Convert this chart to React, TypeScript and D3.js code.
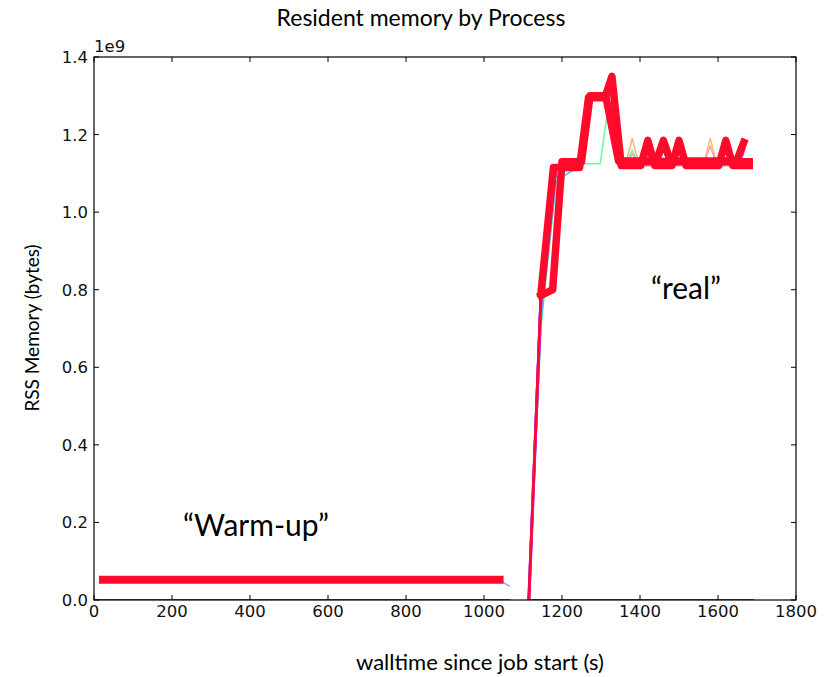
import { useEffect, useRef } from 'react'
import * as d3 from 'd3'

const WIDTH = 828
const HEIGHT = 677

const xTicks = [0, 200, 400, 600, 800, 1000, 1200, 1400, 1600, 1800]
const yTicks = [0, 0.2, 0.4, 0.6, 0.8, 1.0, 1.2, 1.4]

// all memory values in units of 1e9 bytes, times in seconds
const warmupRedTimes = [23, 1040]
const warmupRed = [0.052, 0.052]
const warmupBlueTimes = [23, 1040, 1065]
const warmupBlue = [0.05, 0.05, 0.036]
const warmupZeroTimes = [5, 1065]
const warmupZero = [0, 0]
const realZeroTimes = [1112, 1690]
const realZero = [0, 0]
const riseTimes = [1115, 1146]
const rise = [0, 0.79]

const realTimes = [1115, 1146, 1185, 1245, 1268, 1298, 1318, 1328, 1352, 1362, 1380, 1398, 1402, 1420, 1438, 1442, 1460, 1478, 1482, 1500, 1518, 1562, 1580, 1598, 1602, 1620, 1638, 1648, 1666]
const procOrange = [0, 0.74, 1.11, 1.12, 1.29, 1.29, 1.29, 1.3, 1.12, 1.12, 1.19, 1.12, 1.12, 1.12, 1.12, 1.12, 1.12, 1.12, 1.12, 1.12, 1.12, 1.12, 1.19, 1.12, 1.12, 1.12, 1.12, 1.12, 1.12]
const procGreen = [0, 0.7, 1.1, 1.125, 1.125, 1.125, 1.27, 1.22, 1.12, 1.12, 1.16, 1.12, 1.12, 1.12, 1.12, 1.12, 1.12, 1.12, 1.12, 1.16, 1.12, 1.12, 1.12, 1.12, 1.12, 1.12, 1.12, 1.12, 1.12]
const procYellow = [0, 0.76, 1.1, 1.12, 1.3, 1.3, 1.3, 1.31, 1.12, 1.12, 1.12, 1.12, 1.12, 1.12, 1.12, 1.12, 1.12, 1.12, 1.12, 1.12, 1.12, 1.12, 1.185, 1.12, 1.12, 1.12, 1.12, 1.12, 1.12]
const procPink = [0, 0.77, 1.11, 1.12, 1.3, 1.3, 1.3, 1.33, 1.12, 1.12, 1.15, 1.12, 1.12, 1.12, 1.12, 1.12, 1.12, 1.12, 1.12, 1.12, 1.12, 1.12, 1.17, 1.12, 1.12, 1.12, 1.12, 1.12, 1.12]
const procCyan = [0, 0.72, 1.08, 1.12, 1.3, 1.3, 1.3, 1.32, 1.12, 1.12, 1.12, 1.12, 1.12, 1.145, 1.12, 1.12, 1.14, 1.12, 1.12, 1.15, 1.12, 1.12, 1.12, 1.12, 1.12, 1.14, 1.12, 1.12, 1.15]
const procBlue = [0, 0.79, 1.12, 1.12, 1.3, 1.3, 1.3, 1.34, 1.12, 1.12, 1.12, 1.12, 1.12, 1.165, 1.12, 1.12, 1.16, 1.12, 1.12, 1.155, 1.12, 1.12, 1.12, 1.12, 1.12, 1.17, 1.12, 1.12, 1.17]
const procPurple = [0, 0.78, 1.12, 1.12, 1.3, 1.3, 1.3, 1.35, 1.12, 1.12, 1.12, 1.12, 1.12, 1.175, 1.12, 1.12, 1.175, 1.12, 1.12, 1.17, 1.12, 1.12, 1.12, 1.12, 1.12, 1.175, 1.12, 1.12, 1.18]
const procMagenta = [0, 0.77, 1.12, 1.12, 1.3, 1.3, 1.3, 1.35, 1.12, 1.12, 1.12, 1.12, 1.12, 1.155, 1.12, 1.12, 1.165, 1.12, 1.12, 1.16, 1.12, 1.12, 1.12, 1.12, 1.12, 1.16, 1.12, 1.12, 1.16]

const redATimes = [1146, 1178, 1245, 1268, 1310, 1328, 1352, 1402, 1420, 1438, 1482, 1500, 1518, 1602, 1620, 1638, 1680]
const redA = [0.79, 1.115, 1.115, 1.295, 1.295, 1.35, 1.12, 1.12, 1.185, 1.12, 1.12, 1.185, 1.12, 1.12, 1.185, 1.12, 1.12]
const redBTimes = [1146, 1176, 1200, 1250, 1272, 1312, 1345, 1442, 1460, 1478, 1648, 1666]
const redB = [0.785, 0.8, 1.13, 1.13, 1.3, 1.3, 1.132, 1.132, 1.185, 1.132, 1.132, 1.18]
const redCTimes = [1352, 1680]
const redC = [1.13, 1.13]

type Line = { times: number[]; values: number[]; color: string; width: number; opacity: number }

const RED = '#ff0a2a'

const lines: Line[] = [
  { times: warmupZeroTimes, values: warmupZero, color: RED, width: 2, opacity: 1 },
  { times: realZeroTimes, values: realZero, color: RED, width: 2, opacity: 1 },
  { times: warmupBlueTimes, values: warmupBlue, color: '#8899ff', width: 1.5, opacity: 0.9 },
  { times: warmupRedTimes, values: warmupRed, color: RED, width: 8, opacity: 1 },
  { times: realTimes, values: procOrange, color: '#ffa070', width: 1.5, opacity: 0.85 },
  { times: realTimes, values: procYellow, color: '#eedd66', width: 1.5, opacity: 0.85 },
  { times: realTimes, values: procGreen, color: '#55ff88', width: 1.5, opacity: 0.9 },
  { times: realTimes, values: procPink, color: '#ff88bb', width: 1.5, opacity: 0.85 },
  { times: realTimes, values: procCyan, color: '#33bbff', width: 2, opacity: 0.8 },
  { times: realTimes, values: procBlue, color: '#3344ff', width: 2.5, opacity: 0.85 },
  { times: realTimes, values: procPurple, color: '#9922ee', width: 3, opacity: 0.9 },
  { times: realTimes, values: procMagenta, color: '#ee11cc', width: 3, opacity: 0.9 },
  { times: riseTimes, values: rise, color: RED, width: 2.5, opacity: 1 },
  { times: redCTimes, values: redC, color: RED, width: 7.5, opacity: 1 },
  { times: redBTimes, values: redB, color: RED, width: 7.5, opacity: 1 },
  { times: redATimes, values: redA, color: RED, width: 7.5, opacity: 1 },
]

const App = () => {
  const svgRef = useRef<SVGSVGElement | null>(null)

  useEffect(() => {
    if (!svgRef.current) return
    const svg = d3.select(svgRef.current)
    svg.selectAll('*').remove()

    const left = 94
    const right = 796
    const top = 57
    const bottom = 600

    const x = d3.scaleLinear().domain([0, 1800]).range([left, right])
    const y = d3.scaleLinear().domain([0, 1.4]).range([bottom, top])

    const line = d3
      .line<[number, number]>()
      .x((d) => x(d[0]))
      .y((d) => y(d[1]))

    svg.append('defs').append('clipPath').attr('id', 'plot-clip')
      .append('rect').attr('x', left).attr('y', top).attr('width', right - left).attr('height', bottom - top)

    const plot = svg.append('g').attr('clip-path', 'url(#plot-clip)')
    lines.forEach((l) => {
      const pts = l.times.map((t, i) => [t, l.values[i]] as [number, number])
      plot.append('path')
        .attr('d', line(pts))
        .attr('fill', 'none')
        .attr('stroke', l.color)
        .attr('stroke-width', l.width)
        .attr('stroke-opacity', l.opacity)
        .attr('stroke-linejoin', 'round')
        .attr('stroke-linecap', 'square')
    })

    const tickFont = 'DejaVu Sans, sans-serif'

    // frame
    svg.append('rect')
      .attr('x', left).attr('y', top)
      .attr('width', right - left).attr('height', bottom - top)
      .attr('fill', 'none').attr('stroke', '#000').attr('stroke-width', 1.2)

    // inward ticks on all sides
    const tl = 5
    xTicks.forEach((t) => {
      svg.append('line').attr('x1', x(t)).attr('x2', x(t)).attr('y1', bottom).attr('y2', bottom - tl).attr('stroke', '#000')
      svg.append('line').attr('x1', x(t)).attr('x2', x(t)).attr('y1', top).attr('y2', top + tl).attr('stroke', '#000')
      svg.append('text')
        .attr('x', x(t)).attr('y', bottom + 17)
        .attr('text-anchor', 'middle')
        .attr('font-family', tickFont).attr('font-size', 16.5).attr('fill', '#111')
        .text(String(t))
    })
    yTicks.forEach((v) => {
      svg.append('line').attr('x1', left).attr('x2', left + tl).attr('y1', y(v)).attr('y2', y(v)).attr('stroke', '#000')
      svg.append('line').attr('x1', right).attr('x2', right - tl).attr('y1', y(v)).attr('y2', y(v)).attr('stroke', '#000')
      svg.append('text')
        .attr('x', left - 6).attr('y', y(v) + 6)
        .attr('text-anchor', 'end')
        .attr('font-family', tickFont).attr('font-size', 16.5).attr('fill', '#111')
        .text(v.toFixed(1))
    })

    svg.append('text')
      .attr('x', left).attr('y', top - 5)
      .attr('font-family', tickFont).attr('font-size', 16.5).attr('fill', '#111')
      .text('1e9')

    const labelFont = 'Lato, Open Sans, sans-serif'

    svg.append('text')
      .attr('x', 421).attr('y', 26)
      .attr('text-anchor', 'middle')
      .attr('font-family', labelFont).attr('font-size', 23).attr('fill', '#000')
      .text('Resident memory by Process')

    svg.append('text')
      .attr('transform', 'translate(39,328) rotate(-90)')
      .attr('text-anchor', 'middle')
      .attr('font-family', labelFont).attr('font-size', 19).attr('fill', '#000')
      .text('RSS Memory (bytes)')

    svg.append('text')
      .attr('x', 480).attr('y', 670)
      .attr('text-anchor', 'middle')
      .attr('font-family', labelFont).attr('font-size', 22).attr('fill', '#000')
      .text('walltime since job start (s)')

    svg.append('text')
      .attr('x', 256).attr('y', 536)
      .attr('text-anchor', 'middle')
      .attr('font-family', labelFont).attr('font-size', 30).attr('fill', '#000')
      .text('\u201cWarm-up\u201d')

    svg.append('text')
      .attr('x', 686).attr('y', 299)
      .attr('text-anchor', 'middle')
      .attr('font-family', labelFont).attr('font-size', 30).attr('fill', '#000')
      .text('\u201creal\u201d')
  }, [])

  return (
    <div style={{ position: 'absolute', left: 0, top: 0, background: '#fff' }}>
      <svg ref={svgRef} width={WIDTH} height={HEIGHT} />
    </div>
  )
}

export default App
